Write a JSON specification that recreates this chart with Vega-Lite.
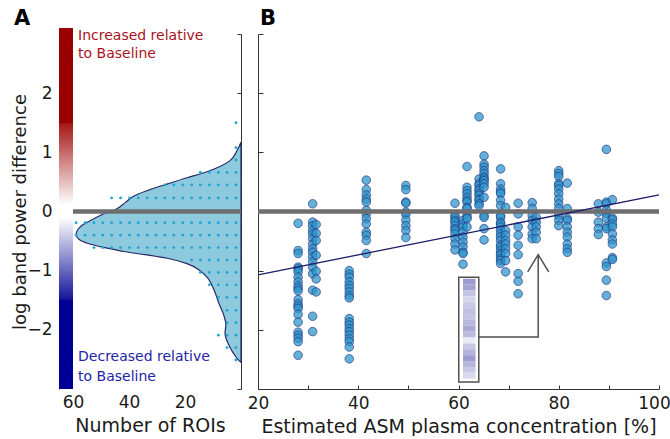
{
  "$schema": "https://vega.github.io/schema/vega-lite/v6.json",
  "padding": {"left": 11, "top": 7, "right": 0, "bottom": 0},
  "spacing": 3,
  "config": {
    "view": {"stroke": null},
    "font": "DejaVu Sans",
    "axis": {"labelFont": "DejaVu Sans", "titleFont": "DejaVu Sans", "labelFontSize": 17, "titleFontSize": 19, "labelColor": "#1a1a1a", "titleColor": "#1a1a1a", "titleFontWeight": "normal", "domainColor": "#333333", "tickColor": "#333333", "grid": false, "labelFlush": false, "labelOverlap": false}
  },
  "datasets": {
    "one": [{}],
    "curve": [
      {"y": 1.17, "n": 0}, {"y": 1.03, "n": 1.4}, {"y": 0.86, "n": 3.9}, {"y": 0.76, "n": 7.5}, {"y": 0.66, "n": 12.9},
      {"y": 0.57, "n": 19.3}, {"y": 0.47, "n": 26}, {"y": 0.37, "n": 32.5}, {"y": 0.27, "n": 37.9}, {"y": 0.15, "n": 41.4},
      {"y": 0.03, "n": 45}, {"y": -0.03, "n": 48.6}, {"y": -0.14, "n": 53.2}, {"y": -0.22, "n": 56.4}, {"y": -0.30, "n": 58.2},
      {"y": -0.39, "n": 58.9}, {"y": -0.47, "n": 57.9}, {"y": -0.54, "n": 54.6}, {"y": -0.61, "n": 48.6}, {"y": -0.68, "n": 41.4},
      {"y": -0.73, "n": 34.3}, {"y": -0.79, "n": 26.4}, {"y": -0.88, "n": 19.3}, {"y": -1.0, "n": 14.6}, {"y": -1.13, "n": 11.8},
      {"y": -1.33, "n": 9.6}, {"y": -1.55, "n": 7.9}, {"y": -1.76, "n": 6.1}, {"y": -1.91, "n": 5.4}, {"y": -2.06, "n": 5.7},
      {"y": -2.23, "n": 4.6}, {"y": -2.38, "n": 2.9}, {"y": -2.5, "n": 1.1}, {"y": -2.55, "n": 0}
    ],
    "dots": [
      {"y": 1.5, "n": 1.8},
      {"y": 1.08, "n": 1.8},
      {"y": 0.87, "n": 1.8},
      {"y": 0.66, "n": 1.8}, {"y": 0.66, "n": 5.0}, {"y": 0.66, "n": 8.1}, {"y": 0.66, "n": 11.3}, {"y": 0.66, "n": 14.5},
      {"y": 0.45, "n": 1.8}, {"y": 0.45, "n": 5.0}, {"y": 0.45, "n": 8.1}, {"y": 0.45, "n": 11.3}, {"y": 0.45, "n": 14.5}, {"y": 0.45, "n": 17.6}, {"y": 0.45, "n": 20.8}, {"y": 0.45, "n": 24.0}, {"y": 0.45, "n": 27.2},
      {"y": 0.23, "n": 1.8}, {"y": 0.23, "n": 5.0}, {"y": 0.23, "n": 8.1}, {"y": 0.23, "n": 11.3}, {"y": 0.23, "n": 14.5}, {"y": 0.23, "n": 17.6}, {"y": 0.23, "n": 20.8}, {"y": 0.23, "n": 24.0}, {"y": 0.23, "n": 27.2}, {"y": 0.23, "n": 30.3}, {"y": 0.23, "n": 33.5}, {"y": 0.23, "n": 36.7}, {"y": 0.23, "n": 39.8}, {"y": 0.23, "n": 43.0}, {"y": 0.23, "n": 46.2},
      {"y": 0.02, "n": 1.8}, {"y": 0.02, "n": 5.0}, {"y": 0.02, "n": 8.1}, {"y": 0.02, "n": 11.3}, {"y": 0.02, "n": 14.5}, {"y": 0.02, "n": 17.6}, {"y": 0.02, "n": 20.8}, {"y": 0.02, "n": 24.0}, {"y": 0.02, "n": 27.2},
      {"y": -0.19, "n": 1.8}, {"y": -0.19, "n": 5.0}, {"y": -0.19, "n": 8.1}, {"y": -0.19, "n": 11.3}, {"y": -0.19, "n": 14.5}, {"y": -0.19, "n": 17.6}, {"y": -0.19, "n": 20.8}, {"y": -0.19, "n": 24.0}, {"y": -0.19, "n": 27.2}, {"y": -0.19, "n": 30.3}, {"y": -0.19, "n": 33.5}, {"y": -0.19, "n": 36.7}, {"y": -0.19, "n": 39.8}, {"y": -0.19, "n": 43.0}, {"y": -0.19, "n": 46.2}, {"y": -0.19, "n": 49.4}, {"y": -0.19, "n": 52.5}, {"y": -0.19, "n": 55.7}, {"y": -0.19, "n": 58.9},
      {"y": -0.4, "n": 1.8}, {"y": -0.4, "n": 5.0}, {"y": -0.4, "n": 8.1}, {"y": -0.4, "n": 11.3}, {"y": -0.4, "n": 14.5}, {"y": -0.4, "n": 17.6}, {"y": -0.4, "n": 20.8}, {"y": -0.4, "n": 24.0}, {"y": -0.4, "n": 27.2}, {"y": -0.4, "n": 30.3}, {"y": -0.4, "n": 33.5}, {"y": -0.4, "n": 36.7}, {"y": -0.4, "n": 39.8}, {"y": -0.4, "n": 43.0}, {"y": -0.4, "n": 46.2}, {"y": -0.4, "n": 49.4}, {"y": -0.4, "n": 52.5}, {"y": -0.4, "n": 55.7}, {"y": -0.4, "n": 58.9},
      {"y": -0.61, "n": 1.8}, {"y": -0.61, "n": 5.0}, {"y": -0.61, "n": 8.1}, {"y": -0.61, "n": 11.3}, {"y": -0.61, "n": 14.5}, {"y": -0.61, "n": 17.6}, {"y": -0.61, "n": 20.8}, {"y": -0.61, "n": 24.0}, {"y": -0.61, "n": 27.2}, {"y": -0.61, "n": 30.3}, {"y": -0.61, "n": 33.5}, {"y": -0.61, "n": 36.7}, {"y": -0.61, "n": 39.8}, {"y": -0.61, "n": 43.0}, {"y": -0.61, "n": 46.2}, {"y": -0.61, "n": 49.4}, {"y": -0.61, "n": 52.5},
      {"y": -0.82, "n": 1.8}, {"y": -0.82, "n": 5.0}, {"y": -0.82, "n": 8.1}, {"y": -0.82, "n": 11.3}, {"y": -0.82, "n": 14.5}, {"y": -0.82, "n": 17.6},
      {"y": -1.03, "n": 1.8}, {"y": -1.03, "n": 5.0}, {"y": -1.03, "n": 8.1}, {"y": -1.03, "n": 11.3}, {"y": -1.03, "n": 14.5},
      {"y": -1.24, "n": 1.8}, {"y": -1.24, "n": 5.0}, {"y": -1.24, "n": 8.1}, {"y": -1.24, "n": 11.3},
      {"y": -1.45, "n": 1.8}, {"y": -1.45, "n": 5.0}, {"y": -1.45, "n": 8.1},
      {"y": -1.67, "n": 1.8}, {"y": -1.67, "n": 5.0},
      {"y": -1.88, "n": 1.8}, {"y": -1.88, "n": 5.0},
      {"y": -2.09, "n": 1.8}, {"y": -2.09, "n": 5.0}, {"y": -2.09, "n": 8.1},
      {"y": -2.3, "n": 1.8}, {"y": -2.3, "n": 5.0},
      {"y": -2.51, "n": 1.8}
    ],
    "pts": [
      {"x": 28.0, "y": -0.20}, {"x": 28.0, "y": -0.66}, {"x": 28.0, "y": -0.71}, {"x": 28.0, "y": -0.94}, {"x": 28.0, "y": -0.97}, {"x": 28.0, "y": -1.02}, {"x": 28.0, "y": -1.11}, {"x": 28.0, "y": -1.19}, {"x": 28.0, "y": -1.26}, {"x": 28.0, "y": -1.30}, {"x": 28.0, "y": -1.34}, {"x": 28.0, "y": -1.49}, {"x": 28.0, "y": -1.56}, {"x": 28.0, "y": -1.60}, {"x": 28.0, "y": -1.64}, {"x": 28.0, "y": -1.74}, {"x": 28.0, "y": -1.87}, {"x": 28.0, "y": -2.04}, {"x": 28.0, "y": -2.09}, {"x": 28.0, "y": -2.14}, {"x": 28.0, "y": -2.20}, {"x": 28.0, "y": -2.43},
      {"x": 30.9, "y": 0.13}, {"x": 30.9, "y": -0.18}, {"x": 30.9, "y": -0.24}, {"x": 30.9, "y": -0.32}, {"x": 30.9, "y": -0.38}, {"x": 30.9, "y": -0.46}, {"x": 30.9, "y": -0.55}, {"x": 30.9, "y": -0.63}, {"x": 30.9, "y": -0.69}, {"x": 30.9, "y": -0.77}, {"x": 30.9, "y": -0.85}, {"x": 30.9, "y": -0.94}, {"x": 30.9, "y": -1.05}, {"x": 30.9, "y": -1.33}, {"x": 30.9, "y": -1.77}, {"x": 30.9, "y": -2.03},
      {"x": 31.6, "y": -0.22}, {"x": 31.6, "y": -0.37}, {"x": 31.6, "y": -0.49}, {"x": 31.6, "y": -0.74}, {"x": 31.6, "y": -1.01}, {"x": 31.6, "y": -1.14}, {"x": 31.6, "y": -1.36},
      {"x": 38.2, "y": -1.00}, {"x": 38.2, "y": -1.06}, {"x": 38.2, "y": -1.11}, {"x": 38.2, "y": -1.19}, {"x": 38.2, "y": -1.25}, {"x": 38.2, "y": -1.30}, {"x": 38.2, "y": -1.36}, {"x": 38.2, "y": -1.42}, {"x": 38.2, "y": -1.46}, {"x": 38.2, "y": -1.81}, {"x": 38.2, "y": -1.87}, {"x": 38.2, "y": -1.92}, {"x": 38.2, "y": -1.98}, {"x": 38.2, "y": -2.03}, {"x": 38.2, "y": -2.09}, {"x": 38.2, "y": -2.15}, {"x": 38.2, "y": -2.20}, {"x": 38.2, "y": -2.29}, {"x": 38.2, "y": -2.49},
      {"x": 41.6, "y": 0.53}, {"x": 41.6, "y": 0.37}, {"x": 41.6, "y": 0.28}, {"x": 41.6, "y": 0.21}, {"x": 41.6, "y": 0.16}, {"x": 41.6, "y": 0.02}, {"x": 41.6, "y": -0.04}, {"x": 41.6, "y": -0.12}, {"x": 41.6, "y": -0.21}, {"x": 41.6, "y": -0.35}, {"x": 41.6, "y": -0.40}, {"x": 41.6, "y": -0.49}, {"x": 41.6, "y": -0.71},
      {"x": 49.5, "y": 0.44}, {"x": 49.5, "y": 0.37}, {"x": 49.5, "y": 0.16}, {"x": 49.5, "y": 0.14}, {"x": 49.5, "y": -0.01}, {"x": 49.5, "y": -0.05}, {"x": 49.5, "y": -0.15}, {"x": 49.5, "y": -0.24}, {"x": 49.5, "y": -0.32}, {"x": 49.5, "y": -0.44},
      {"x": 59.3, "y": 0.14}, {"x": 59.3, "y": -0.07}, {"x": 59.3, "y": -0.10}, {"x": 59.3, "y": -0.15}, {"x": 59.3, "y": -0.18}, {"x": 59.3, "y": -0.24}, {"x": 59.3, "y": -0.29}, {"x": 59.3, "y": -0.32}, {"x": 59.3, "y": -0.38}, {"x": 59.3, "y": -0.46}, {"x": 59.3, "y": -0.55}, {"x": 59.3, "y": -0.65},
      {"x": 60.9, "y": -0.15}, {"x": 60.9, "y": -0.21}, {"x": 60.9, "y": -0.26}, {"x": 60.9, "y": -0.35}, {"x": 60.9, "y": -0.43}, {"x": 60.9, "y": -0.52}, {"x": 60.9, "y": -0.60}, {"x": 60.9, "y": -0.69}, {"x": 60.9, "y": -0.71}, {"x": 60.9, "y": -0.89},
      {"x": 61.7, "y": 0.76}, {"x": 61.7, "y": 0.41}, {"x": 61.7, "y": 0.35}, {"x": 61.7, "y": 0.30}, {"x": 61.7, "y": 0.24}, {"x": 61.7, "y": 0.19}, {"x": 61.7, "y": 0.16}, {"x": 61.7, "y": 0.07}, {"x": 61.7, "y": 0.05}, {"x": 61.7, "y": -0.04}, {"x": 61.7, "y": -0.10}, {"x": 61.7, "y": -0.12}, {"x": 61.7, "y": -0.26},
      {"x": 64.1, "y": 1.60}, {"x": 64.1, "y": 0.55}, {"x": 64.1, "y": 0.47}, {"x": 64.1, "y": 0.44}, {"x": 64.1, "y": 0.38}, {"x": 64.1, "y": 0.35}, {"x": 64.1, "y": 0.30}, {"x": 64.1, "y": 0.27}, {"x": 64.1, "y": 0.21}, {"x": 64.1, "y": 0.19}, {"x": 64.1, "y": 0.13}, {"x": 64.1, "y": 0.10},
      {"x": 65.1, "y": 0.94}, {"x": 65.1, "y": 0.80}, {"x": 65.1, "y": 0.75}, {"x": 65.1, "y": 0.69}, {"x": 65.1, "y": 0.64}, {"x": 65.1, "y": 0.58}, {"x": 65.1, "y": 0.55}, {"x": 65.1, "y": 0.52}, {"x": 65.1, "y": 0.47}, {"x": 65.1, "y": 0.41}, {"x": 65.1, "y": 0.24}, {"x": 65.1, "y": -0.07}, {"x": 65.1, "y": -0.10}, {"x": 65.1, "y": -0.29}, {"x": 65.1, "y": -0.48},
      {"x": 68.4, "y": 0.72}, {"x": 68.4, "y": 0.47}, {"x": 68.4, "y": 0.38}, {"x": 68.4, "y": 0.33}, {"x": 68.4, "y": 0.30}, {"x": 68.4, "y": 0.19}, {"x": 68.4, "y": 0.10}, {"x": 68.4, "y": -0.07}, {"x": 68.4, "y": -0.10}, {"x": 68.4, "y": -0.18}, {"x": 68.4, "y": -0.21}, {"x": 68.4, "y": -0.26}, {"x": 68.4, "y": -0.32}, {"x": 68.4, "y": -0.38}, {"x": 68.4, "y": -0.43}, {"x": 68.4, "y": -0.49}, {"x": 68.4, "y": -0.57}, {"x": 68.4, "y": -0.60}, {"x": 68.4, "y": -0.66}, {"x": 68.4, "y": -0.71}, {"x": 68.4, "y": -0.74}, {"x": 68.4, "y": -0.80}, {"x": 68.4, "y": -0.83}, {"x": 68.4, "y": -0.88},
      {"x": 69.4, "y": 0.07}, {"x": 69.4, "y": -0.32}, {"x": 69.4, "y": -0.40}, {"x": 69.4, "y": -0.49}, {"x": 69.4, "y": -0.55}, {"x": 69.4, "y": -0.63}, {"x": 69.4, "y": -0.71}, {"x": 69.4, "y": -0.83}, {"x": 69.4, "y": -1.02},
      {"x": 71.9, "y": 0.14}, {"x": 71.9, "y": -0.04}, {"x": 71.9, "y": -0.26}, {"x": 71.9, "y": -0.40}, {"x": 71.9, "y": -0.57}, {"x": 71.9, "y": -0.73}, {"x": 71.9, "y": -1.05}, {"x": 71.9, "y": -1.18}, {"x": 71.9, "y": -1.39},
      {"x": 74.7, "y": 0.15}, {"x": 74.7, "y": 0.05}, {"x": 74.7, "y": -0.07}, {"x": 74.7, "y": -0.15}, {"x": 74.7, "y": -0.26}, {"x": 74.7, "y": -0.38}, {"x": 74.7, "y": -0.46},
      {"x": 75.5, "y": -0.10}, {"x": 75.5, "y": -0.18}, {"x": 75.5, "y": -0.26}, {"x": 75.5, "y": -0.35}, {"x": 75.5, "y": -0.46},
      {"x": 80.0, "y": 0.69}, {"x": 80.0, "y": 0.64}, {"x": 80.0, "y": 0.59}, {"x": 80.0, "y": 0.47}, {"x": 80.0, "y": 0.44}, {"x": 80.0, "y": 0.38}, {"x": 80.0, "y": 0.30}, {"x": 80.0, "y": 0.21}, {"x": 80.0, "y": 0.13}, {"x": 80.0, "y": 0.05}, {"x": 80.0, "y": -0.07}, {"x": 80.0, "y": -0.15}, {"x": 80.0, "y": -0.24},
      {"x": 81.7, "y": 0.48}, {"x": 81.7, "y": 0.05}, {"x": 81.7, "y": -0.12}, {"x": 81.7, "y": -0.15}, {"x": 81.7, "y": -0.26}, {"x": 81.7, "y": -0.35}, {"x": 81.7, "y": -0.43}, {"x": 81.7, "y": -0.55}, {"x": 81.7, "y": -0.63}, {"x": 81.7, "y": -0.69},
      {"x": 87.9, "y": 0.13}, {"x": 87.9, "y": -0.01}, {"x": 87.9, "y": -0.18}, {"x": 87.9, "y": -0.29}, {"x": 87.9, "y": -0.39},
      {"x": 89.5, "y": 1.05}, {"x": 89.5, "y": 0.16}, {"x": 89.5, "y": 0.13}, {"x": 89.5, "y": 0.02}, {"x": 89.5, "y": -0.03}, {"x": 89.5, "y": -0.11}, {"x": 89.5, "y": -0.26}, {"x": 89.5, "y": -0.29}, {"x": 89.5, "y": -0.87}, {"x": 89.5, "y": -0.93}, {"x": 89.5, "y": -1.16}, {"x": 89.5, "y": -1.42},
      {"x": 90.7, "y": 0.20}, {"x": 90.7, "y": -0.11}, {"x": 90.7, "y": -0.14}, {"x": 90.7, "y": -0.21}, {"x": 90.7, "y": -0.26}, {"x": 90.7, "y": -0.38}, {"x": 90.7, "y": -0.48}, {"x": 90.7, "y": -0.55}, {"x": 90.7, "y": -0.78}, {"x": 90.7, "y": -0.81}
    ],
    "cells": [
      {"y1": -1.137, "y2": -1.236, "v": 0.95}, {"y1": -1.236, "y2": -1.336, "v": 0.85}, {"y1": -1.336, "y2": -1.435, "v": 0.5},
      {"y1": -1.435, "y2": -1.534, "v": 0.3}, {"y1": -1.534, "y2": -1.634, "v": 0.45}, {"y1": -1.634, "y2": -1.733, "v": 0.55},
      {"y1": -1.733, "y2": -1.832, "v": 0.5}, {"y1": -1.832, "y2": -1.932, "v": 0.62}, {"y1": -1.932, "y2": -2.031, "v": 0.8},
      {"y1": -2.031, "y2": -2.13, "v": 0.58}, {"y1": -2.13, "y2": -2.23, "v": 0.08}, {"y1": -2.23, "y2": -2.329, "v": 0.45},
      {"y1": -2.329, "y2": -2.428, "v": 0.68}, {"y1": -2.428, "y2": -2.528, "v": 0.92}, {"y1": -2.528, "y2": -2.627, "v": 0.65},
      {"y1": -2.627, "y2": -2.726, "v": 0.45}, {"y1": -2.726, "y2": -2.826, "v": 0.25}
    ],
    "arrow": [
      {"ax": 64.05, "ay": -2.12, "s": "p", "o": 0}, {"ax": 75.9, "ay": -2.12, "s": "p", "o": 1}, {"ax": 75.9, "ay": -0.73, "s": "p", "o": 2},
      {"ax": 73.8, "ay": -1.02, "s": "h", "o": 0}, {"ax": 75.9, "ay": -0.73, "s": "h", "o": 1}, {"ax": 78.0, "ay": -1.02, "s": "h", "o": 2}
    ]
  },
  "hconcat": [
    {
      "width": 182,
      "height": 355,
      "resolve": {"axis": {"x": "independent", "y": "independent"}},
      "layer": [
        {
          "data": {"name": "one"},
          "mark": {"type": "rect", "fill": {"gradient": "linear", "x1": 0, "y1": 0, "x2": 0, "y2": 1, "stops": [
            {"offset": 0, "color": "#990000"}, {"offset": 0.262, "color": "#990000"}, {"offset": 0.265, "color": "#a61818"},
            {"offset": 0.49, "color": "#ffffff"}, {"offset": 0.525, "color": "#ffffff"}, {"offset": 0.751, "color": "#16169c"},
            {"offset": 0.755, "color": "#000096"}, {"offset": 1, "color": "#000096"}]}},
          "encoding": {
            "x": {"datum": 65, "type": "quantitative", "scale": {"domain": [0, 65], "reverse": true, "nice": false, "zero": false},
              "axis": {"orient": "bottom", "values": [20, 40, 60], "domain": false, "ticks": false, "labelPadding": 5, "title": "Number of ROIs", "titlePadding": 6}},
            "x2": {"datum": 60},
            "y": {"datum": 3.1, "type": "quantitative", "scale": {"domain": [-3, 3], "nice": false, "zero": false},
              "axis": {"orient": "left", "values": [-2, -1, 0, 1, 2], "ticks": false, "domain": true, "labelPadding": 7, "title": "log band power difference", "titleFontSize": 18, "titlePadding": -3}},
            "y2": {"datum": -3}
          }
        },
        {
          "data": {"name": "curve"},
          "mark": {"type": "area", "orient": "horizontal", "interpolate": "monotone", "fill": "#8dcade", "stroke": "#262a66", "strokeWidth": 1.2},
          "encoding": {
            "x": {"field": "n", "type": "quantitative", "scale": {"domain": [0, 65], "reverse": true, "nice": false, "zero": false}, "axis": null},
            "y": {"field": "y", "type": "quantitative", "scale": {"domain": [-3, 3], "nice": false, "zero": false}, "axis": null}
          }
        },
        {
          "data": {"name": "dots"},
          "mark": {"type": "circle", "size": 8, "color": "#22a3d6", "opacity": 1},
          "encoding": {
            "x": {"field": "n", "type": "quantitative", "scale": {"domain": [0, 65], "reverse": true, "nice": false, "zero": false}, "axis": null},
            "y": {"field": "y", "type": "quantitative", "scale": {"domain": [-3, 3], "nice": false, "zero": false},
              "axis": {"orient": "right", "values": [-3, -2, -1, 0, 1, 2, 3], "labels": false, "tickSize": -4, "domain": true, "title": null}}
          }
        },
        {
          "data": {"name": "one"},
          "mark": {"type": "rule", "color": "#6e6e6e", "strokeWidth": 4.5},
          "encoding": {
            "x": {"datum": 60, "type": "quantitative", "scale": {"domain": [0, 65], "reverse": true, "nice": false, "zero": false}, "axis": null},
            "x2": {"datum": 0},
            "y": {"datum": 0, "type": "quantitative", "scale": {"domain": [-3, 3], "nice": false, "zero": false}, "axis": null}
          }
        },
        {
          "data": {"name": "one"},
          "mark": {"type": "text", "align": "left", "baseline": "middle", "fontSize": 14, "color": "#a8141e", "lineHeight": 18.5},
          "encoding": {
            "x": {"datum": 58.2, "type": "quantitative", "scale": {"domain": [0, 65], "reverse": true, "nice": false, "zero": false}, "axis": null},
            "y": {"datum": 2.97, "type": "quantitative", "scale": {"domain": [-3, 3], "nice": false, "zero": false}, "axis": null},
            "text": {"value": ["Increased relative", "to Baseline"]}
          }
        },
        {
          "data": {"name": "one"},
          "mark": {"type": "text", "align": "left", "baseline": "middle", "fontSize": 14, "color": "#2424a8", "lineHeight": 19.5},
          "encoding": {
            "x": {"datum": 58.2, "type": "quantitative", "scale": {"domain": [0, 65], "reverse": true, "nice": false, "zero": false}, "axis": null},
            "y": {"datum": -2.466, "type": "quantitative", "scale": {"domain": [-3, 3], "nice": false, "zero": false}, "axis": null},
            "text": {"value": ["Decreased relative", "to Baseline"]}
          }
        },
        {
          "data": {"name": "one"},
          "mark": {"type": "text", "align": "center", "baseline": "middle", "fontSize": 21, "fontWeight": "bold", "color": "#000000"},
          "encoding": {
            "x": {"datum": 78.2, "type": "quantitative", "scale": {"domain": [0, 65], "reverse": true, "nice": false, "zero": false}, "axis": null},
            "y": {"datum": 3.26, "type": "quantitative", "scale": {"domain": [-3, 3], "nice": false, "zero": false}, "axis": null},
            "text": {"value": "A"}
          }
        }
      ]
    },
    {
      "width": 401,
      "height": 355,
      "resolve": {"axis": {"x": "independent", "y": "independent"}},
      "layer": [
        {
          "data": {"name": "one"},
          "mark": {"type": "rect", "fill": "#ffffff", "stroke": "#505050", "strokeWidth": 1.5},
          "encoding": {
            "x": {"datum": 60.05, "type": "quantitative", "scale": {"domain": [20, 100], "nice": false, "zero": false},
              "axis": {"orient": "bottom", "values": [20, 30, 40, 50, 60, 70, 80, 90, 100], "labelExpr": "datum.value % 20 === 0 ? datum.label : ''", "labelOffset": {"condition": {"test": "datum.value === 100", "value": -5}, "value": 0}, "tickSize": -4, "labelPadding": 10, "domain": true, "title": "Estimated ASM plasma concentration [%]", "titlePadding": 6}},
            "x2": {"datum": 64.05},
            "y": {"datum": -1.11, "type": "quantitative", "scale": {"domain": [-3, 3], "nice": false, "zero": false},
              "axis": {"orient": "left", "values": [-3, -2, -1, 0, 1, 2, 3], "labels": false, "tickSize": -5, "domain": true, "title": null}},
            "y2": {"datum": -2.88}
          }
        },
        {
          "data": {"name": "cells"},
          "mark": {"type": "rect"},
          "encoding": {
            "x": {"datum": 60.9, "type": "quantitative", "scale": {"domain": [20, 100], "nice": false, "zero": false}, "axis": null},
            "x2": {"datum": 63.4},
            "y": {"field": "y1", "type": "quantitative", "scale": {"domain": [-3, 3], "nice": false, "zero": false}, "axis": null},
            "y2": {"field": "y2"},
            "fill": {"field": "v", "type": "quantitative", "scale": {"domain": [0, 1], "range": ["#f3f3fa", "#9896cc"]}, "legend": null}
          }
        },
        {
          "data": {"name": "arrow"},
          "mark": {"type": "line", "color": "#505050", "strokeWidth": 1.5},
          "encoding": {
            "x": {"field": "ax", "type": "quantitative", "scale": {"domain": [20, 100], "nice": false, "zero": false}, "axis": null},
            "y": {"field": "ay", "type": "quantitative", "scale": {"domain": [-3, 3], "nice": false, "zero": false}, "axis": null},
            "detail": {"field": "s"},
            "order": {"field": "o"}
          }
        },
        {
          "data": {"name": "pts"},
          "mark": {"type": "circle", "size": 74, "fill": "#2f95cb", "fillOpacity": 0.75, "stroke": "#1f2a78", "strokeOpacity": 0.6, "strokeWidth": 1},
          "encoding": {
            "x": {"field": "x", "type": "quantitative", "scale": {"domain": [20, 100], "nice": false, "zero": false}, "axis": null},
            "y": {"field": "y", "type": "quantitative", "scale": {"domain": [-3, 3], "nice": false, "zero": false}, "axis": null}
          }
        },
        {
          "data": {"name": "one"},
          "mark": {"type": "rule", "color": "#6e6e6e", "strokeWidth": 4.5},
          "encoding": {
            "x": {"datum": 20, "type": "quantitative", "scale": {"domain": [20, 100], "nice": false, "zero": false}, "axis": null},
            "x2": {"datum": 100},
            "y": {"datum": 0, "type": "quantitative", "scale": {"domain": [-3, 3], "nice": false, "zero": false}, "axis": null}
          }
        },
        {
          "data": {"name": "one"},
          "mark": {"type": "rule", "color": "#1c1c6a", "strokeWidth": 1.3},
          "encoding": {
            "x": {"datum": 20, "type": "quantitative", "scale": {"domain": [20, 100], "nice": false, "zero": false}, "axis": null},
            "x2": {"datum": 100},
            "y": {"datum": -1.07, "type": "quantitative", "scale": {"domain": [-3, 3], "nice": false, "zero": false}, "axis": null},
            "y2": {"datum": 0.28}
          }
        },
        {
          "data": {"name": "one"},
          "mark": {"type": "text", "align": "center", "baseline": "middle", "fontSize": 21, "fontWeight": "bold", "color": "#000000"},
          "encoding": {
            "x": {"datum": 22.0, "type": "quantitative", "scale": {"domain": [20, 100], "nice": false, "zero": false}, "axis": null},
            "y": {"datum": 3.26, "type": "quantitative", "scale": {"domain": [-3, 3], "nice": false, "zero": false}, "axis": null},
            "text": {"value": "B"}
          }
        }
      ]
    }
  ]
}
